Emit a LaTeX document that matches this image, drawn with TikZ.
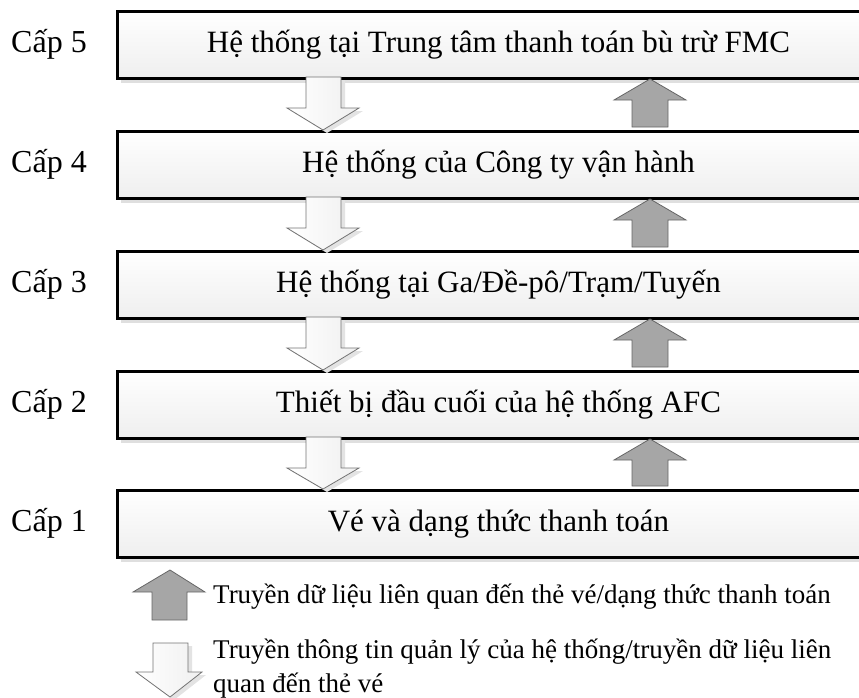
\documentclass[tikz,border=0pt]{standalone}
\usepackage{fontspec}
\setmainfont{Liberation Serif}
\usetikzlibrary{shadows}
\tikzset{
  levelbox/.style={draw=black, line width=3pt, top color=white, bottom color=gray!13,
    minimum width=762pt, minimum height=67pt, anchor=north west, inner sep=0pt,
    text height=21pt, text depth=7pt,
    font=\fontsize{31}{37}\selectfont,
    drop shadow={shadow xshift=3pt, shadow yshift=-4pt, fill=gray!25, opacity=1}},
  levellabel/.style={anchor=base west, inner sep=0pt, font=\fontsize{32}{38}\selectfont},
  downarr/.style={draw=black!55, line width=0.8pt, left color=white, right color=gray!12},
  downshadow/.style={fill=gray!22, draw=none},
  uparr/.style={draw=black!60, line width=0.8pt, fill=gray!70},
  legendtext/.style={anchor=base west, inner sep=0pt, font=\fontsize{27}{33}\selectfont}
}
\begin{document}
\begin{tikzpicture}[x=1pt,y=-1pt]
\useasboundingbox (0,0) rectangle (859,697);
\clip (0,0) rectangle (859,697);
% boxes
\node[levelbox] (b5) at (116,10)  {Hệ thống tại Trung tâm thanh toán bù trừ FMC};
\node[levelbox] (b4) at (116,130) {Hệ thống của Công ty vận hành};
\node[levelbox] (b3) at (116,250) {Hệ thống tại Ga/Đề-pô/Trạm/Tuyến};
\node[levelbox] (b2) at (116,370) {Thiết bị đầu cuối của hệ thống AFC};
\node[levelbox] (b1) at (116,489) {Vé và dạng thức thanh toán};
% labels
\node[levellabel] (l5) at (11,52)  {Cấp 5};
\node[levellabel] (l4) at (11,172) {Cấp 4};
\node[levellabel] (l3) at (11,292) {Cấp 3};
\node[levellabel] (l2) at (11,412) {Cấp 2};
\node[levellabel] (l1) at (11,531) {Cấp 1};
% arrows between levels
\foreach \B/\T in {77/130,197/250,317/370,437/489}{
  \fill[downshadow] (310,\B+3) -- (345,\B+3) -- (345,\B+34) -- (363,\B+34) -- (327,\T+3) -- (291,\B+34) -- (310,\B+34) -- cycle;
  \draw[downarr] (306,\B) -- (341,\B) -- (341,\B+31) -- (359,\B+31) -- (323,\T) -- (287,\B+31) -- (306,\B+31) -- cycle;
  \draw[uparr] (650,\B+2) -- (686,\B+23) -- (668,\B+23) -- (668,\T-3) -- (632,\T-3) -- (632,\B+23) -- (614,\B+23) -- cycle;
}
% legend
\draw[uparr] (170,570) -- (205,592) -- (187,592) -- (187,620) -- (152,620) -- (152,592) -- (133,592) -- cycle;
\fill[downshadow] (157,646) -- (192,646) -- (192,675) -- (206,675) -- (174,700) -- (140,675) -- (157,675) -- cycle;
\draw[downarr] (153,643) -- (188,643) -- (188,672) -- (202,672) -- (170,697) -- (136,672) -- (153,672) -- cycle;
\node[legendtext] (t1) at (213,603) {Truyền dữ liệu liên quan đến thẻ vé/dạng thức thanh toán};
\node[legendtext] (t2) at (213,658) {Truyền thông tin quản lý của hệ thống/truyền dữ liệu liên};
\node[legendtext] (t3) at (213,692) {quan đến thẻ vé};
\end{tikzpicture}
\end{document}
